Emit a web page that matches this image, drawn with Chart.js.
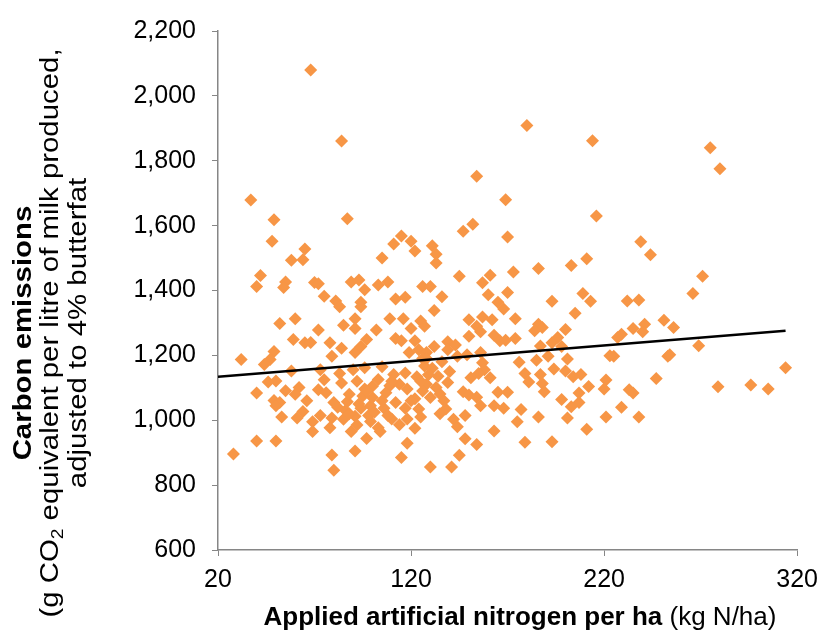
<!DOCTYPE html>
<html>
<head>
<meta charset="utf-8">
<script src="https://cdn.jsdelivr.net/npm/chart.js@4"></script>
<style>
  html, body { margin: 0; padding: 0; background: #fff; }
</style>
</head>
<body>
<canvas id="chart" width="827" height="635"></canvas>
<script>
// applied artificial nitrogen (kg N/ha) and carbon emissions (g CO2-eq / litre) per farm
const nitrogen = [
  52, 60, 59, 65, 68, 32, 49, 47, 44, 58, 46, 50, 40, 55, 62, 49, 52, 50, 64, 61, 53, 69, 69, 40, 50, 28,
  68, 37, 49, 48, 65, 58, 64, 42, 40, 55, 54, 70,
  84, 87, 115, 120, 111, 122, 105, 72, 89, 93, 96, 103, 108, 75, 81, 94, 112, 117,
  154, 169, 152, 147, 170, 131, 133, 133, 145, 161, 157, 126, 130, 136, 160, 170, 165,
  180, 214, 216, 173, 186, 203, 211, 209, 193, 213,
  275, 280, 239, 244, 271, 266, 232, 238,
  251, 256, 241, 235, 240, 229, 227, 269, 253, 254, 225, 247, 279, 296, 305, 314, 233, 235, 229, 238,
  205, 174, 186, 188, 184, 200, 174, 196, 193, 198, 187, 223, 191, 185, 201, 176, 194, 200, 208, 179,
  187, 204, 181, 188, 212, 221, 220, 189, 207, 198, 207, 203, 177, 201, 186, 175, 221, 211, 179, 193,
  132, 168, 150, 157, 162, 125, 127, 154, 156, 150, 163, 166, 169, 122, 139, 143, 132, 124, 139, 149,
  156, 144, 128, 157, 127, 158, 155, 161, 123, 134, 151, 139, 128, 133, 147, 150, 165, 170, 135, 154,
  156, 163, 168, 122, 124, 138, 148, 125, 142, 144, 122, 163, 148, 154, 145, 130, 141,
  126, 131, 136, 129, 137, 126,
  83, 94, 109, 116, 85, 91, 91, 102, 72, 120, 78, 84, 97, 112, 115, 119, 91, 94, 79, 73,
  83, 90, 96, 105, 111, 117, 103, 96, 72, 76, 109, 114, 118, 80, 87, 94, 99, 106, 112, 117,
  73, 79, 85, 91, 99, 103, 110, 114, 118, 78, 89, 97, 104, 118, 91, 79, 115, 80,
  88, 100, 92, 107, 98, 86, 110, 100, 95,
  82, 88, 93, 101, 105, 97, 84, 108, 92, 120, 125, 130, 135, 128, 140, 60, 66, 75
];
const emissions = [
  1298, 1313, 1249, 1239, 1240, 1187, 1212, 1187, 1172, 1152, 1118, 1121, 1084, 1091, 1101, 1061, 1055, 1045, 1027, 1007, 1010, 995, 965, 936, 936, 896,
  2080, 1679, 1618, 1552, 1528, 1493, 1495, 1446, 1412, 1426, 1409, 1425,
  1861, 1621, 1568, 1552, 1543, 1522, 1500, 1421, 1426, 1432, 1402, 1417, 1426, 1382, 1368, 1364, 1374, 1379,
  1752, 1680, 1604, 1583, 1565, 1538, 1512, 1485, 1444, 1447, 1424, 1412, 1412, 1381, 1387, 1394, 1364,
  1909, 1862, 1630, 1457, 1468, 1477, 1498, 1391, 1367, 1367,
  1840, 1775, 1550, 1510, 1444, 1391, 1368, 1371,
  1308, 1286, 1296, 1283, 1273, 1265, 1255, 1230, 1197, 1202, 1197, 1129, 1103, 1109, 1096, 1162, 1094, 1084, 1040, 1010,
  1330, 1313, 1296, 1286, 1276, 1280, 1252, 1255, 1239, 1227, 1229, 1199, 1197, 1185, 1189, 1179, 1158, 1152, 1141, 1144,
  1141, 1134, 1118, 1113, 1104, 1124, 1096, 1088, 1084, 1064, 1055, 1042, 1033, 1007, 1010, 995, 1010, 972, 932, 934,
  1338, 1343, 1310, 1318, 1310, 1306, 1290, 1290, 1273, 1259, 1262, 1245, 1247, 1245, 1242, 1232, 1227, 1217, 1217, 1202,
  1209, 1197, 1209, 1177, 1167, 1156, 1144, 1131, 1134, 1136, 1131, 1116, 1111, 1101, 1088, 1078, 1086, 1086, 1081, 1071,
  1045, 1045, 1037, 1066, 1035, 1035, 1015, 1010, 1003, 980, 975, 967, 943, 925, 892, 856, 856,
  1190, 1160, 1180, 1140, 1060, 1090,
  1350, 1350, 1313, 1313, 1293, 1313, 1283, 1278, 1278, 1283, 1239, 1222, 1249, 1252, 1245, 1209, 1209, 1227, 1197, 1156,
  1144, 1156, 1162, 1165, 1141, 1146, 1126, 1096, 1094, 1085, 1106, 1111, 1096, 1055, 1057, 1037, 1045, 1037, 1055, 1037,
  1015, 1007, 1003, 1012, 996, 977, 1004, 986, 1004, 977, 965, 944, 965, 929, 905, 893, 885, 846,
  1080, 1070, 1120, 1085, 1015, 1030, 1120, 1105, 1075,
  1040, 1020, 1050, 1025, 1060, 1090, 1115, 1015, 985, 1060, 1120, 1070, 1020, 1190, 1150, 1080, 1060, 1125
];

// linear trend line end points
const trendX = [20, 314];
const trendY = [1134, 1276];

const xTicks = [20, 120, 220, 320];
const yTicks = [600, 800, 1000, 1200, 1400, 1600, 1800, 2000, 2200];

const xTitleBold = 'Applied artificial nitrogen per ha';
const xTitleRest = ' (kg N/ha)';
const yTitle1 = 'Carbon emissions';
const yTitle2a = '(g CO';
const yTitle2b = '2';
const yTitle2c = ' equivalent per litre of milk produced,';
const yTitle3 = 'adjusted to 4% butterfat';

const FONT = '"Liberation Sans", Arial, sans-serif';
const AXIS = '#868686';
const ORANGE = '#F79646';

const points = nitrogen.map((x, i) => ({ x: x, y: emissions[i] }));
const trend = trendX.map((x, i) => ({ x: x, y: trendY[i] }));

// axis titles drawn by hand (mixed bold / regular and subscript)
const axisTitles = {
    id: 'axisTitles',
    afterDraw(chart) {
        const ctx = chart.ctx;
        ctx.save();
        ctx.fillStyle = '#000';
        ctx.textBaseline = 'middle';
        ctx.textAlign = 'left';

        // x title
        ctx.font = 'bold 26px ' + FONT;
        const w1 = ctx.measureText(xTitleBold).width;
        ctx.font = '26px ' + FONT;
        const w2 = ctx.measureText(xTitleRest).width;
        let x0 = 520 - (w1 + w2) / 2;
        ctx.font = 'bold 26px ' + FONT;
        ctx.fillText(xTitleBold, x0, 618);
        ctx.font = '26px ' + FONT;
        ctx.fillText(xTitleRest, x0 + w1, 618);

        // y title, rotated; the source picture is a little stretched vertically
        const bold = 'bold 26px ' + FONT;
        const reg = '26px ' + FONT;
        const sub = '17px ' + FONT;
        ctx.translate(0, 333);
        ctx.rotate(-Math.PI / 2);
        ctx.scale(1.13, 1);
        ctx.font = bold;
        let w = ctx.measureText(yTitle1).width;
        ctx.fillText(yTitle1, -w / 2, 24);

        ctx.font = reg;
        const a = ctx.measureText(yTitle2a).width;
        const c = ctx.measureText(yTitle2c).width;
        ctx.font = sub;
        const b = ctx.measureText(yTitle2b).width;
        let s = -(a + b + c) / 2;
        ctx.font = reg;
        ctx.fillText(yTitle2a, s, 51);
        ctx.font = sub;
        ctx.fillText(yTitle2b, s + a, 58);
        ctx.font = reg;
        ctx.fillText(yTitle2c, s + a + b, 51);

        w = ctx.measureText(yTitle3).width;
        ctx.fillText(yTitle3, -w / 2, 79);
        ctx.restore();
    }
};

new Chart(document.getElementById('chart'), {
    type: 'scatter',
    data: {
        datasets: [
            {
                type: 'line',
                label: 'Trend',
                data: trend,
                borderColor: '#000',
                borderWidth: 2.5,
                pointRadius: 0,
                fill: false,
                order: 0
            },
            {
                label: 'Farms',
                data: points,
                pointStyle: 'rectRot',
                pointRadius: 6.5,
                pointHoverRadius: 6.5,
                backgroundColor: ORANGE,
                borderColor: ORANGE,
                borderWidth: 0,
                order: 1
            }
        ]
    },
    options: {
        responsive: false,
        animation: false,
        devicePixelRatio: 1,
        layout: { padding: { top: 22, right: 26, left: 0, bottom: 0 } },
        plugins: {
            legend: { display: false },
            tooltip: { enabled: false }
        },
        scales: {
            x: {
                type: 'linear',
                min: 20,
                max: 320,
                afterBuildTicks: s => { s.ticks = xTicks.map(v => ({ value: v })); },
                afterFit: s => { s.height = 85; },
                grid: { drawOnChartArea: false, tickLength: 6, color: AXIS, tickColor: AXIS },
                border: { color: AXIS, width: 1.5 },
                ticks: { color: '#000', font: { family: FONT, size: 25 }, padding: 9, maxRotation: 0 }
            },
            y: {
                min: 600,
                max: 2200,
                afterBuildTicks: s => { s.ticks = yTicks.map(v => ({ value: v })); },
                afterFit: s => { s.width = 218; },
                grid: { drawOnChartArea: false, tickLength: 6, color: AXIS, tickColor: AXIS },
                border: { color: AXIS, width: 1.5 },
                ticks: {
                    color: '#000',
                    font: { family: FONT, size: 25 },
                    padding: 16,
                    callback: v => v.toLocaleString('en-US')
                }
            }
        }
    },
    plugins: [axisTitles]
});
</script>
</body>
</html>
